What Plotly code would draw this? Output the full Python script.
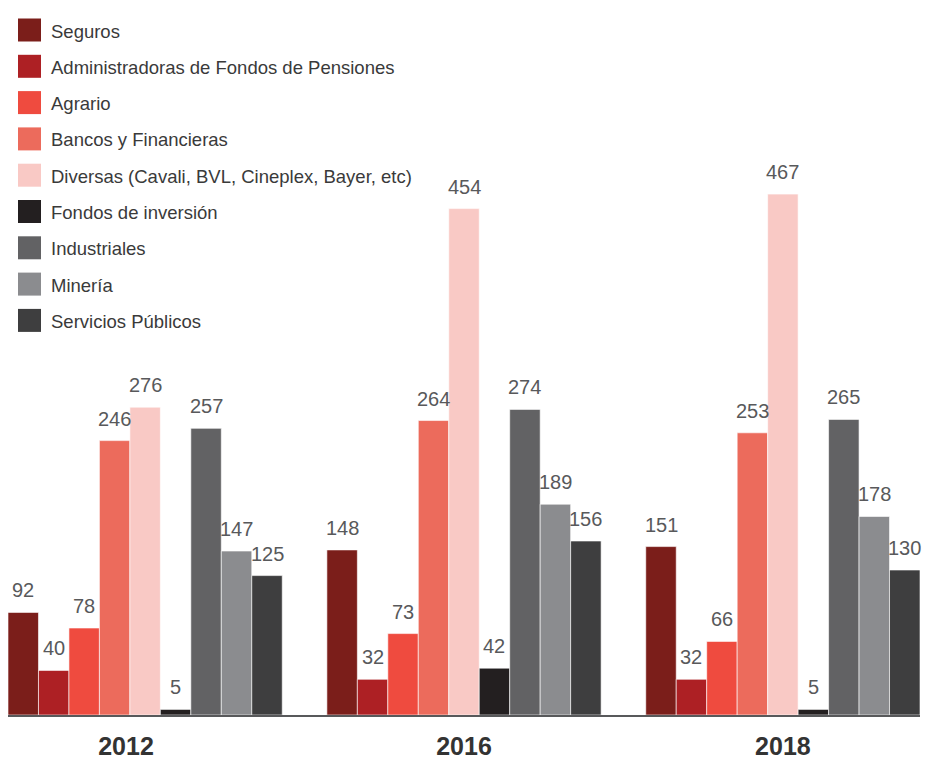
import plotly.graph_objects as go

years = ["2012", "2016", "2018"]
sectors = [
    "Seguros",
    "Administradoras de Fondos de Pensiones",
    "Agrario",
    "Bancos y Financieras",
    "Diversas (Cavali, BVL, Cineplex, Bayer, etc)",
    "Fondos de inversión",
    "Industriales",
    "Minería",
    "Servicios Públicos",
]
seguros = [92, 148, 151]
afp = [40, 32, 32]
agrario = [78, 73, 66]
bancos = [246, 264, 253]
diversas = [276, 454, 467]
fondos = [5, 42, 5]
industriales = [257, 274, 265]
mineria = [147, 189, 178]
servicios = [125, 156, 130]
values = [seguros, afp, agrario, bancos, diversas, fondos, industriales, mineria, servicios]
colors = ["#7B1E1A", "#AD2024", "#EF4B3F", "#EC6B5C", "#F9C9C5",
          "#231F20", "#626264", "#8B8C8F", "#3E3E3F"]

# page is shown with the browser's default 8px body margin
OFF = 8
PAGE_W, PAGE_H = 930, 760
W, H = PAGE_W - OFF, PAGE_H - OFF
# plot area in page pixels
P_L, P_R, P_T, P_B = 8, 920, 135, 715
ML, MR, MT, MB = P_L - OFF, PAGE_W - P_R, P_T - OFF, PAGE_H - P_B
YMAX = 520
BARGAP = 0.14
xpos = list(range(len(years)))
label_shift = [-0.06, 0, 0]  # the reference sets its first year label a bit left

fig = go.Figure()
for name, vals, col in zip(sectors, values, colors):
    fig.add_trace(go.Bar(
        x=xpos, y=vals, name=name, marker_color=col,
        marker_line=dict(color="rgba(255,255,255,0.6)", width=1),
        showlegend=False,
    ))

# value labels above bars
n = len(sectors)
gw = 1 - BARGAP
bw = gw / n
for i, vals in enumerate(values):
    for j, v in enumerate(vals):
        fig.add_annotation(
            x=xpos[j] - gw / 2 + bw * (i + 0.5), y=v, xref="x", yref="y",
            text=str(v), showarrow=False, yanchor="bottom", yshift=9,
            font=dict(size=20, color="#58595B", family="Liberation Sans"),
        )

# manual legend (page pixel positions -> paper coords)
ph = P_B - P_T
pw = P_R - P_L
def px_x(x):
    return (x - P_L) / pw
def px_y(y):
    return (P_B - y) / ph
for k, (name, col) in enumerate(zip(sectors, colors)):
    cy = 30 + k * 36.3
    fig.add_shape(type="rect", xref="paper", yref="paper",
                  x0=px_x(18), x1=px_x(41), y0=px_y(cy - 11.5), y1=px_y(cy + 11.5),
                  fillcolor=col, line_width=0)
    fig.add_annotation(x=px_x(49), y=px_y(cy + 1), xref="paper", yref="paper",
                       text=name, showarrow=False, xanchor="left", yanchor="middle",
                       font=dict(size=18.5, color="#3A3A3A", family="Liberation Sans"))

fig.update_layout(
    width=W, height=H,
    margin=dict(l=ML, r=MR, t=MT, b=MB, autoexpand=False),
    paper_bgcolor="white", plot_bgcolor="white",
    barmode="group", bargap=BARGAP, bargroupgap=0,
    xaxis=dict(range=[-0.43, 2.43],
               tickvals=[p + s for p, s in zip(xpos, label_shift)],
               ticktext=["<b>" + y + "</b>" for y in years],
               tickfont=dict(size=25, color="#333333", family="Liberation Sans"),
               showline=True, linecolor="#58595B", linewidth=2, automargin=False,
               ticks="", showgrid=False, zeroline=False, ticklabelstandoff=8),
    yaxis=dict(range=[0, YMAX], visible=False, showgrid=False, zeroline=False),
    showlegend=False,
)

fig.write_html("out.html")
